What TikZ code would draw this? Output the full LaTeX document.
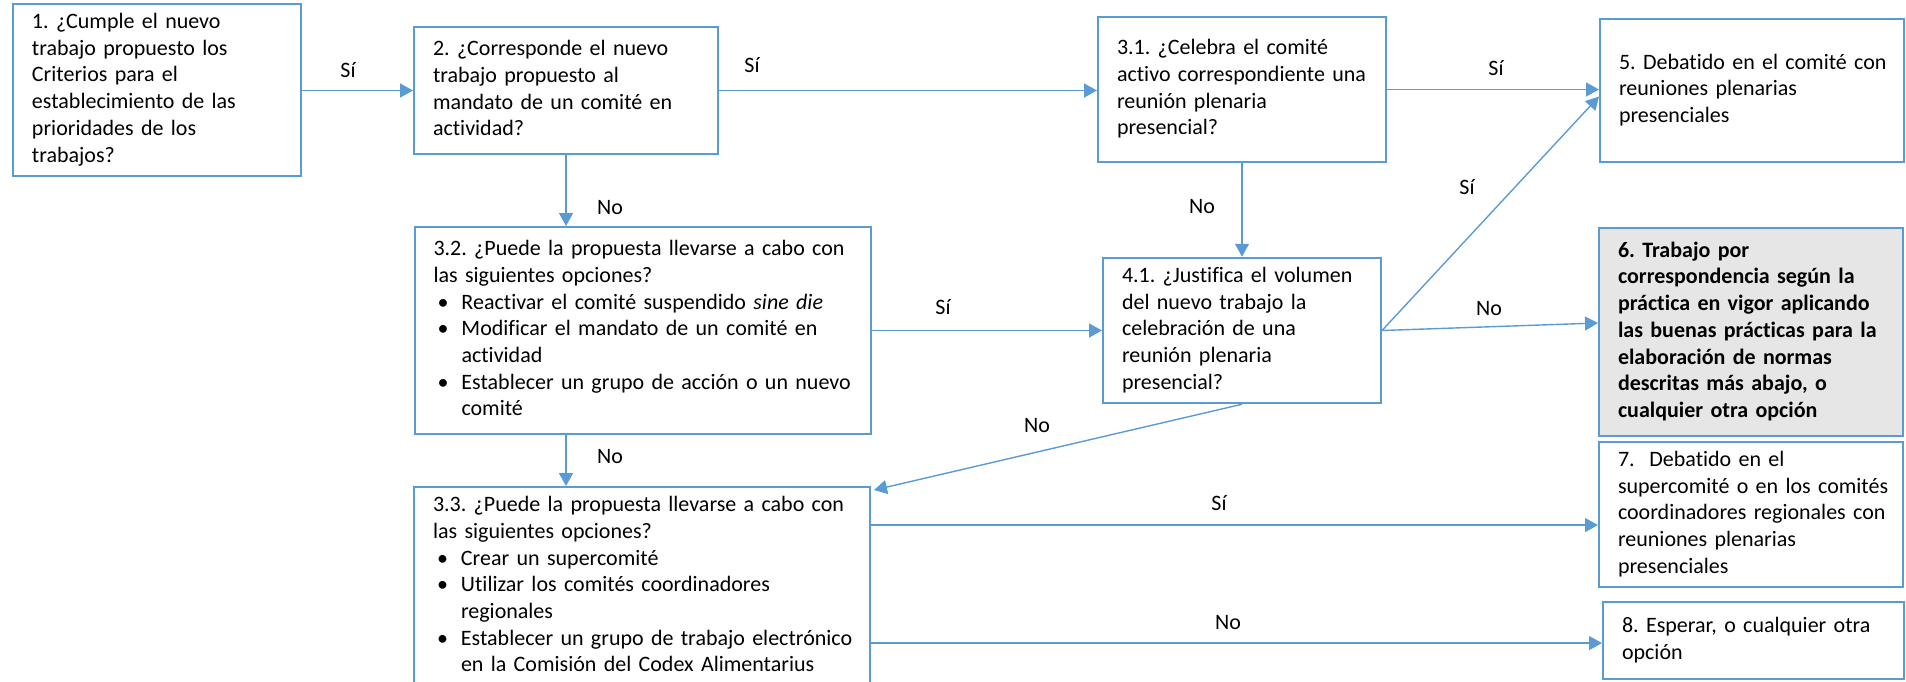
\documentclass[tikz,border=0pt]{standalone}
\usepackage{fontspec}
\setmainfont{Carlito}[Ligatures=NoCommon]
\usepackage{tikz}
\usetikzlibrary{arrows.meta,positioning,calc}
\definecolor{azul}{HTML}{5B9BD5}
\definecolor{gris}{HTML}{E7E6E6}
\newcommand{\vineta}{\hspace*{2pt}\makebox[12pt][l]{\textbullet}}
\newcommand{\sangria}{\hspace*{14pt}}
\newcommand{\renglones}[1]{\begin{tabular}{@{}l@{}}#1\end{tabular}}
\frenchspacing

\begin{document}
\begin{tikzpicture}[x=0.5pt, y=-0.5pt,
  font=\fontsize{11pt}{13.35pt}\selectfont,
  caja/.style={draw=azul, line width=1pt, shape=rectangle, align=left, inner xsep=9.5pt, inner ysep=3pt},
  flecha/.style={draw=azul, line width=0.7pt, -{Triangle[length=6.5pt, width=7pt]}},
  etiq/.style={inner sep=0pt}]
\useasboundingbox (0,0) rectangle (1906,681);
\clip (0,0) rectangle (1906,681);

% preguntas
\node[caja, text width=125pt, minimum height=84pt] (b1) at (157,90)
  {\renglones{1. ¿Cumple el nuevo\\ trabajo propuesto los\\ Criterios para el\\ establecimiento de las\\ prioridades de los\\ trabajos?}};
\node[caja, text width=133pt, minimum height=63.5pt] (b2) at (566,90.5)
  {\renglones{2. ¿Corresponde el nuevo\\ trabajo propuesto al\\ mandato de un comité en\\ actividad?}};
\node[caja, text width=125pt, minimum height=72.5pt] (b31) at (1242,89.5)
  {\renglones{3.1. ¿Celebra el comité\\ activo correspondiente una\\ reunión plenaria\\ presencial?}};
\node[caja, text width=209pt, minimum height=103.5pt] (b32) at (642.5,330.5)
  {\renglones{3.2. ¿Puede la propuesta llevarse a cabo con\\ las siguientes opciones?\\
   \vineta Reactivar el comité suspendido \textit{sine die}\\
   \vineta Modificar el mandato de un comité en\\ \sangria actividad\\
   \vineta Establecer un grupo de acción o un nuevo\\ \sangria comité}};
\node[caja, text width=120pt, minimum height=71.5pt] (b41) at (1242,330.5)
  {\renglones{4.1. ¿Justifica el volumen\\ del nuevo trabajo la\\ celebración de una\\ reunión plenaria\\ presencial?}};
\node[caja, text width=209pt, minimum height=98.5pt] (b33) at (642,586.5)
  {\renglones{3.3. ¿Puede la propuesta llevarse a cabo con\\ las siguientes opciones?\\
   \vineta Crear un supercomité\\
   \vineta Utilizar los comités coordinadores\\ \sangria regionales\\
   \vineta Establecer un grupo de trabajo electrónico\\ \sangria en la Comisión del Codex Alimentarius}};

% resultados
\node[caja, text width=133pt, minimum height=71.5pt] (b5) at (1752,90.5)
  {\renglones{5. Debatido en el comité con\\ reuniones plenarias\\ presenciales}};
\node[caja, fill=gris, text width=133pt, minimum height=104pt, font=\fontsize{11pt}{13.35pt}\selectfont\bfseries] (b6) at (1751,332)
  {\renglones{6. Trabajo por\\ correspondencia según la\\ práctica en vigor aplicando\\ las buenas prácticas para la\\ elaboración de normas\\ descritas más abajo, o\\ cualquier otra opción}};
\node[caja, text width=133pt, minimum height=71.5pt] (b7) at (1751,514.5)
  {\renglones{7.\ \ Debatido en el\\ supercomité o en los comités\\ coordinadores regionales con\\ reuniones plenarias\\ presenciales}};
\node[caja, text width=131.5pt, minimum height=38.5pt] (b8) at (1753.5,640.5)
  {\renglones{8. Esperar, o cualquier otra\\ opción}};

% conectores
\draw[flecha] (b1.east |- b2.west) -- (b2.west);
\draw[flecha] (b2.east) -- (b2.east -| b31.west);
\draw[flecha] (b31.east) -- (b31.east -| b5.west);
\draw[flecha] (b2.south) -- (b2.south |- b32.north);
\draw[flecha] (b32.south -| b2.south) -- (b2.south |- b33.north);
\draw[flecha] (b31.south) -- (b41.north);
\draw[flecha] (b32.east) -- (b41.west);
\draw[flecha] (b41.east) -- ([yshift=-3pt]b5.west);
\draw[flecha] (b41.east) -- ([yshift=4.5pt]b6.west);
\draw[flecha] (b41.south) -- ([xshift=1.5pt,yshift=-2pt]b33.north east);
\coordinate (s7) at ([yshift=-19.5pt]b33.north east);
\coordinate (s8) at ([yshift=-78.5pt]b33.north east);
\draw[flecha] (s7) -- (s7 -| b7.west);
\draw[flecha] (s8) -- (s8 -| b8.west);

% etiquetas
\node[etiq] (l12) at (348,70) {Sí};
\node[etiq] (l231) at (752,65) {Sí};
\node[etiq] (l315) at (1496,68) {Sí};
\node[etiq] (l232) at (610,208) {No};
\node[etiq] (l3141) at (1202,207) {No};
\node[etiq] (l3241) at (943,307) {Sí};
\node[etiq] (l415) at (1467,187) {Sí};
\node[etiq] (l416) at (1489,309) {No};
\node[etiq] (l4133) at (1037,426) {No};
\node[etiq] (l3233) at (610,457) {No};
\node[etiq] (l337) at (1219,503) {Sí};
\node[etiq] (l338) at (1228,623) {No};
\end{tikzpicture}
\end{document}
